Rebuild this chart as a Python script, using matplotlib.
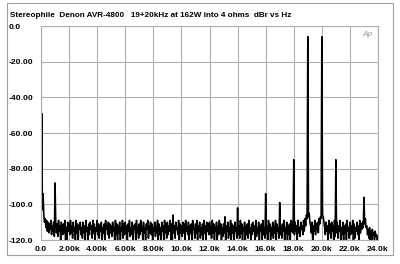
import matplotlib
matplotlib.use("Agg")
import matplotlib.pyplot as plt
from matplotlib.patches import Rectangle
import numpy as np

title = "Stereophile  Denon AVR-4800   19+20kHz at 162W into 4 ohms  dBr vs Hz"
step_hz = 50
noise_db = [
    -100, -104, -103, -107, -106, -110, -108, -113, -109, -115, -110, -116, -111, -114, -109, -117, -112, -115, -110, -118,
    -113, -110, -116, -111, -118, -109, -115, -112, -121, -110, -114, -117, -111, -116, -109, -121, -113, -120, -110, -115,
    -111, -117, -109, -116, -112, -119, -110, -115, -113, -121, -109, -116, -111, -120, -112, -114, -110, -117, -113, -119,
    -110, -116, -112, -121, -109, -115, -113, -120, -111, -117, -110, -114, -112, -119, -109, -116, -111, -121, -113, -115,
    -109, -117, -111, -119, -112, -115, -110, -121, -113, -116, -111, -120, -109, -114, -112, -117, -110, -119, -111, -116,
    -112, -118, -110, -115, -113, -121, -109, -117, -111, -120, -112, -116, -110, -121, -113, -115, -109, -119, -111, -117,
    -110, -116, -112, -121, -111, -115, -109, -118, -113, -117, -110, -120, -112, -114, -111, -121, -109, -116, -113, -119,
    -111, -117, -109, -115, -112, -120, -110, -116, -113, -121, -111, -114, -109, -119, -112, -116, -110, -117, -111, -120,
    -113, -115, -110, -118, -112, -116, -109, -121, -111, -117, -113, -120, -110, -115, -112, -121, -109, -116, -111, -119,
    -110, -117, -112, -115, -109, -121, -111, -120, -106, -116, -112, -119, -110, -114, -113, -117, -109, -121, -111, -116,
    -112, -118, -110, -116, -111, -121, -109, -115, -113, -117, -110, -120, -112, -116, -111, -121, -109, -114, -113, -119,
    -111, -116, -109, -121, -112, -115, -110, -119, -113, -117, -111, -120, -109, -116, -112, -121, -110, -115, -111, -117,
    -110, -117, -112, -119, -109, -116, -111, -121, -113, -115, -110, -120, -112, -117, -109, -116, -111, -121, -113, -118,
    -111, -116, -107, -121, -112, -115, -110, -119, -113, -117, -109, -120, -111, -116, -112, -121, -110, -115, -113, -119,
    -110, -117, -112, -119, -109, -116, -111, -121, -113, -115, -110, -120, -112, -117, -111, -119, -109, -116, -113, -121,
    -111, -117, -110, -115, -112, -121, -109, -118, -113, -116, -110, -120, -112, -115, -111, -121, -109, -117, -113, -119,
    -110, -116, -112, -121, -109, -115, -111, -120, -113, -117, -110, -119, -112, -116, -109, -121, -111, -115, -113, -119,
    -110, -117, -112, -119, -111, -115, -109, -121, -113, -116, -110, -120, -112, -117, -111, -121, -109, -115, -110, -116,
    -111, -117, -110, -115, -112, -121, -109, -116, -113, -118, -110, -114, -112, -117, -109, -115, -108, -112, -106, -108,
    -106, -107, -105, -110, -112, -116, -110, -121, -112, -115, -109, -117, -111, -114, -110, -116, -108, -111, -107, -108,
    -106, -106, -107, -110, -113, -117, -110, -115, -112, -121, -109, -116, -111, -119, -110, -115, -112, -121, -109, -118,
    -111, -116, -110, -119, -112, -115, -109, -121, -113, -117, -110, -120, -112, -116, -111, -121, -109, -115, -113, -119,
    -110, -117, -112, -116, -109, -121, -111, -119, -113, -115, -110, -117, -112, -121, -109, -116, -111, -114, -110, -113,
    -109, -111, -108, -113, -112, -117, -114, -119, -113, -121, -115, -120, -114, -117, -116, -121, -115, -118, -117, -120,
    -118,
]
peak_hz = [50, 150, 1000, 14000, 16000, 17000, 18000, 19000, 20000, 21000, 23000]
peak_db = [-49, -94, -88, -102, -94, -99, -75, -6, -6, -75, -96]

freqs = np.arange(len(noise_db)) * step_hz
levels = np.array(noise_db, dtype=float)
for f, d in zip(peak_hz, peak_db):
    i = int(round(f / step_hz))
    levels[i] = max(levels[i], d)

xticks = [0, 2000, 4000, 6000, 8000, 10000, 12000, 14000, 16000, 18000, 20000, 22000, 24000]
xlabels = ["0.0", "2.00k", "4.00k", "6.00k", "8.00k", "10.0k", "12.0k", "14.0k",
           "16.0k", "18.0k", "20.0k", "22.0k", "24.0k"]
yticks = [0, -20, -40, -60, -80, -100, -120]
ylabels = ["0.0", "-20.00", "-40.00", "-60.00", "-80.00", "-100.0", "-120.0"]

plt.rcParams['font.family'] = ['Liberation Sans', 'DejaVu Sans']
fig = plt.figure(figsize=(4.0, 2.64), dpi=100)
fig.patch.set_facecolor('white')
ax = fig.add_axes([0.1025, 0.0909, 0.8425, 0.8106])

ax.plot(freqs, levels, color='black', lw=1.15)
ax.set_xlim(0, 24000)
ax.set_ylim(-120, 0)
ax.set_xticks(xticks)
ax.set_xticklabels(xlabels)
ax.set_yticks(yticks)
ax.set_yticklabels(ylabels)
ax.grid(True, color='#b0b0b0', lw=0.8)
for s in ax.spines.values():
    s.set_color('#b0b0b0')
    s.set_linewidth(0.8)
ax.tick_params(axis='both', length=0, labelsize=6.1, colors='black')
ax.tick_params(axis='x', pad=4)
ax.tick_params(axis='y', pad=23)
for lab in ax.get_yticklabels():
    lab.set_horizontalalignment('left')
    lab.set_fontweight('bold')
for lab in ax.get_xticklabels():
    lab.set_fontweight('bold')

ax.text(0.985, 0.975, "Ap", transform=ax.transAxes, ha='right', va='top',
        fontsize=6, style='italic', color='#999999')

fig.text(0.025, 0.943, title, fontsize=5.9, fontweight='bold', ha='left', va='center')
fig.patches.append(Rectangle((0.0175, 0.034), 0.965, 0.955, transform=fig.transFigure,
                             fill=False, edgecolor='#a0a0a0', lw=0.8))

fig.savefig("out.png", dpi=100)
